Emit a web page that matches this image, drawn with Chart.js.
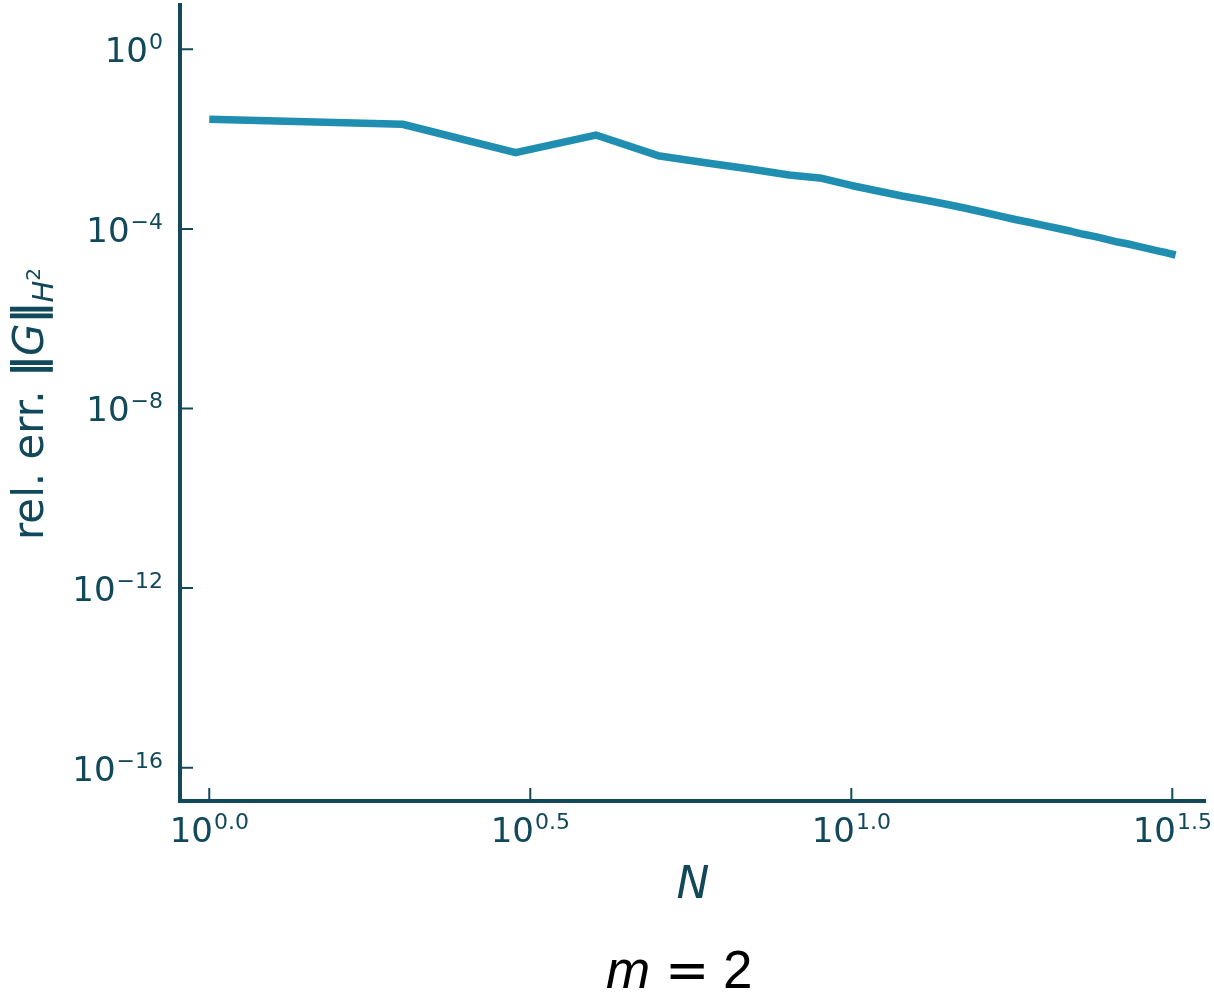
<!DOCTYPE html>
<html>
<head>
<meta charset="utf-8">
<script src="https://cdn.jsdelivr.net/npm/chart.js@4/dist/chart.umd.min.js"></script>
<style>
  body { margin: 0; background: #fff; }
  canvas { display: block; }
</style>
</head>
<body>
<canvas id="errChart" width="1214" height="994"></canvas>
<script>
// relative H2 error of G versus N
const nValues = [1, 2, 3, 4, 5, 6, 7, 8, 9, 10, 11, 12, 13, 14, 15, 16,
                 17, 18, 19, 20, 21, 22, 23, 24, 25, 26, 27, 28, 29, 30, 31, 32];
const relErr = [2.76e-2, 2.14e-2, 4.98e-3, 1.23e-2, 4.27e-3, 2.89e-3, 2.12e-3, 1.58e-3,
                1.34e-3, 9.27e-4, 6.98e-4, 5.41e-4, 4.40e-4, 3.59e-4, 2.92e-4, 2.38e-4,
                1.94e-4, 1.62e-4, 1.39e-4, 1.18e-4, 1.02e-4, 8.85e-5, 7.58e-5, 6.74e-5,
                5.86e-5, 5.10e-5, 4.61e-5, 4.06e-5, 3.62e-5, 3.25e-5, 2.94e-5, 2.62e-5];

// tick positions as powers of ten
const xTickPowers = [0, 0.5, 1.0, 1.5];
const yTickPowers = [0, -4, -8, -12, -16];

const ink = '#11495a';
const lineColor = '#1f8eb0';
const tickFont = '"DejaVu Sans"';

// "10" with a raised exponent, anchored either centred (x axis) or right-aligned (y axis)
function drawPower(ctx, exp, x, baseY, align) {
  ctx.font = '34px ' + tickFont;
  const baseW = ctx.measureText('10').width;
  ctx.font = '22px ' + tickFont;
  const expW = ctx.measureText(exp).width;
  const total = baseW + 1 + expW;
  const left = align === 'center' ? x - total / 2 : x - total;
  ctx.textAlign = 'left';
  ctx.textBaseline = 'alphabetic';
  ctx.font = '34px ' + tickFont;
  ctx.fillText('10', left, baseY);
  ctx.font = '22px ' + tickFont;
  ctx.fillText(exp, left + baseW + 1, baseY - 13);
}

const axesPainter = {
  id: 'axesPainter',
  afterDatasetsDraw(chart) {
    const ctx = chart.ctx;
    const area = chart.chartArea;
    const xs = chart.scales.x;
    const ys = chart.scales.y;
    ctx.save();
    ctx.strokeStyle = ink;
    ctx.fillStyle = ink;

    // left and bottom spines
    ctx.lineWidth = 4;
    ctx.lineJoin = 'miter';
    ctx.beginPath();
    ctx.moveTo(area.left, area.top);
    ctx.lineTo(area.left, area.bottom);
    ctx.lineTo(area.right, area.bottom);
    ctx.stroke();

    // inward ticks
    ctx.lineWidth = 2;
    ctx.beginPath();
    yTickPowers.forEach(p => {
      const y = ys.getPixelForValue(Math.pow(10, p));
      ctx.moveTo(area.left + 2, y);
      ctx.lineTo(area.left + 13, y);
    });
    xTickPowers.forEach(p => {
      const x = xs.getPixelForValue(Math.pow(10, p));
      ctx.moveTo(x, area.bottom - 2);
      ctx.lineTo(x, area.bottom - 13);
    });
    ctx.stroke();

    // tick labels
    yTickPowers.forEach(p => {
      const y = ys.getPixelForValue(Math.pow(10, p));
      const exp = p < 0 ? '\u2212' + Math.abs(p) : String(p);
      drawPower(ctx, exp, area.left - 17, y + 13, 'right');
    });
    xTickPowers.forEach(p => {
      const x = xs.getPixelForValue(Math.pow(10, p));
      drawPower(ctx, p.toFixed(1), x, area.bottom + 41, 'center');
    });

    // x axis title
    ctx.font = 'italic 44px ' + tickFont;
    ctx.textAlign = 'center';
    ctx.fillText('N', (area.left + area.right) / 2, 898);

    // y axis title: rel. err. ‖G‖_{H²}, read bottom to top
    const parts = [
      { t: 'rel. err. ', f: '42px ' + tickFont, dy: 0 },
      { t: '\u2016', f: 'bold 42px ' + tickFont, dy: 0 },
      { t: 'G', f: 'italic 42px ' + tickFont, dy: 0 },
      { t: '\u2016', f: 'bold 42px ' + tickFont, dy: 0 },
      { t: 'H', f: 'italic 29px ' + tickFont, dy: 10 },
      { t: '2', f: '20px ' + tickFont, dy: -3 }
    ];
    let total = 0;
    parts.forEach(pt => { ctx.font = pt.f; pt.w = ctx.measureText(pt.t).width; total += pt.w; });
    ctx.save();
    ctx.translate(43, 404 + total / 2);
    ctx.rotate(-Math.PI / 2);
    ctx.textAlign = 'left';
    let cx = 0;
    parts.forEach(pt => {
      ctx.font = pt.f;
      ctx.fillText(pt.t, cx, pt.dy);
      cx += pt.w;
    });
    ctx.restore();

    // panel caption m = 2
    ctx.fillStyle = '#000';
    ctx.textAlign = 'left';
    ctx.font = 'italic 53px "Liberation Sans"';
    ctx.fillText('m', 606, 988);
    ctx.font = '53px ' + tickFont;
    ctx.fillText('=', 665, 988);
    ctx.font = '53px "Liberation Sans"';
    ctx.fillText('2', 723, 988);

    ctx.restore();
  }
};

const ctx = document.getElementById('errChart').getContext('2d');
const errChart = new Chart(ctx, {
  type: 'line',
  data: {
    datasets: [{
      data: nValues.map((n, i) => ({ x: n, y: relErr[i] })),
      borderColor: lineColor,
      borderWidth: 7.5,
      borderCapStyle: 'butt',
      borderJoinStyle: 'round',
      pointRadius: 0,
      tension: 0,
      fill: false
    }]
  },
  options: {
    responsive: false,
    animation: false,
    devicePixelRatio: 1,
    events: [],
    layout: { padding: { left: 180, right: 8, top: 3, bottom: 193 } },
    plugins: {
      legend: { display: false },
      tooltip: { enabled: false }
    },
    scales: {
      x: {
        type: 'logarithmic',
        min: Math.pow(10, -0.0456),
        max: Math.pow(10, 1.5525),
        display: false
      },
      y: {
        type: 'logarithmic',
        min: Math.pow(10, -16.742),
        max: Math.pow(10, 1.031),
        display: false
      }
    }
  },
  plugins: [axesPainter]
});
</script>
</body>
</html>
